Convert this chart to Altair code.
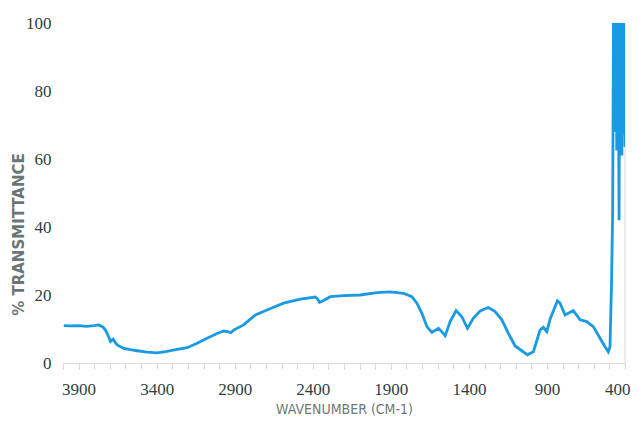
import altair as alt
import pandas as pd

# wavenumber (cm-1) and % transmittance
wavenumber = [
    3995, 3950, 3900, 3850, 3800, 3771, 3745, 3728, 3710, 3696, 3679, 3665, 3653,
    3611, 3570, 3525, 3461, 3397, 3333, 3269, 3205, 3141, 3077, 3013, 2971, 2945,
    2924, 2907, 2843, 2800, 2768, 2693, 2587, 2480, 2384, 2370, 2357, 2331, 2288,
    2203, 2096, 1989, 1904, 1819, 1765, 1733, 1701, 1669, 1637, 1595, 1570, 1552,
    1520, 1482, 1445, 1409, 1371, 1328, 1275, 1232, 1189, 1147, 1104, 1061, 1025,
    987, 944, 923, 901, 880, 833, 816, 784, 731, 688, 645, 603, 560, 528, 507,
    496, 492, 486, 479,
    474, 471, 468, 465, 462, 459, 456, 453, 450, 447, 444, 441, 438, 435, 432,
    429, 426, 423, 420, 417, 414, 411, 408, 405, 402, 400,
]
transmittance = [
    11.0, 10.9, 11.0, 10.8, 11.0, 11.2, 10.6, 9.7, 8.0, 6.3, 7.0, 6.0, 5.3,
    4.3, 3.9, 3.6, 3.2, 3.0, 3.4, 4.0, 4.5, 5.8, 7.3, 8.7, 9.4, 9.2,
    8.9, 9.7, 11.2, 12.9, 14.1, 15.6, 17.6, 18.8, 19.4, 18.9, 17.8, 18.4, 19.5,
    19.8, 20.0, 20.7, 20.9, 20.5, 19.5, 17.6, 14.6, 10.7, 9.0, 10.2, 9.0, 8.0,
    12.2, 15.4, 13.6, 10.2, 13.2, 15.3, 16.3, 15.1, 12.7, 8.7, 5.0, 3.6, 2.4,
    3.3, 9.7, 10.5, 9.2, 12.9, 18.3, 17.6, 14.1, 15.4, 12.7, 12.2, 10.7, 7.3, 4.8, 3.3,
    4.8, 12.7, 24.0, 45.0,
    100, 72, 100, 68, 100, 70, 100, 62.5, 100, 69, 100, 70, 42, 100, 68,
    100, 70, 100, 61, 100, 68, 100, 70, 67, 100, 63.5,
]
x_ticks = list(range(400, 4001, 100))
y_ticks = [0, 20, 40, 60, 80, 100]
axis_edge = [400]

df = pd.DataFrame({"w": wavenumber, "t": transmittance})
edge_df = pd.DataFrame({"w": axis_edge})

label_font = "Liberation Serif"
label_color = "#2f3f3f"

xscale = alt.Scale(domain=[400, 4000], reverse=True, nice=False, zero=False)
yscale = alt.Scale(domain=[0, 100], nice=False)

x_axis = alt.Axis(
    values=x_ticks,
    labelExpr="(datum.value - 400) % 500 == 0 ? datum.value : ''",
    labelOverlap=False,
    labelFlush=True,
    labelFlushOffset=5,
    grid=False,
    domainColor="#d9d9d9",
    tickColor="#d9d9d9",
    tickSize=6,
    labelPadding=12,
    labelFont=label_font,
    labelFontSize=17,
    labelColor=label_color,
    title="WAVENUMBER (CM-1)",
    titleFont="DejaVu Sans Condensed, Liberation Sans, sans-serif",
    titleFontSize=14,
    titleFontWeight="normal",
    titleColor="#6f7777",
    titleBaseline="top",
    titleY=39,
)

y_axis = alt.Axis(
    values=y_ticks,
    domain=False,
    ticks=False,
    grid=False,
    labelPadding=12,
    labelFont=label_font,
    labelFontSize=17,
    labelColor=label_color,
    title="% TRANSMITTANCE",
    titleFont="DejaVu Sans",
    titleFontSize=15,
    titleFontWeight="bold",
    titleColor="#6b7575",
    titleAngle=270,
    titleBaseline="bottom",
    titleAlign="center",
    titleX=-37,
    titleY=211,
)

edge = alt.Chart(edge_df).mark_rule(color="#d9d9d9", strokeWidth=1).encode(
    x=alt.X("w:Q", scale=xscale, axis=x_axis)
)

line = alt.Chart(df).mark_line(color="#1a9ae2", strokeWidth=2.8, clip=True).encode(
    x=alt.X("w:Q", scale=xscale, axis=x_axis),
    y=alt.Y("t:Q", scale=yscale, axis=y_axis),
)

chart = (
    alt.layer(edge, line)
    .properties(
        width=562,
        height=340,
        autosize=alt.AutoSizeParams(type="none"),
        padding={"left": 55, "top": 15, "right": 6, "bottom": 54},
        background="white",
    )
    .configure_view(strokeWidth=0)
)

chart.save("out.html", embed_options={"renderer": "svg", "actions": False})
